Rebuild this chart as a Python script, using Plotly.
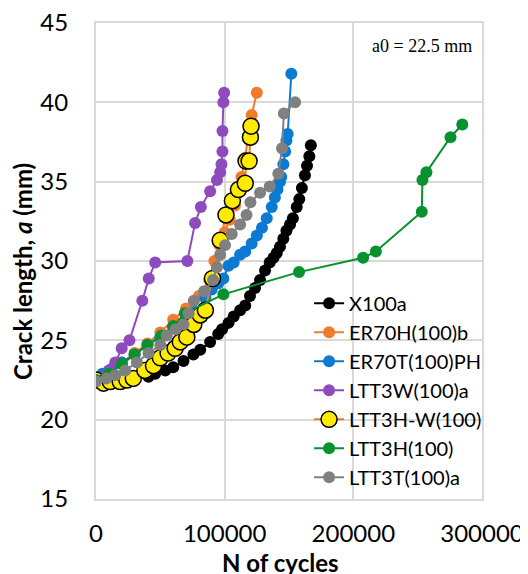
import plotly.graph_objects as go

# ---- data (N of cycles, crack length a in mm) ----
x100a_N = [0, 40800, 46000, 53800, 60000, 68000, 75700, 81000, 88700, 95000, 98000, 103000, 107000,
           112000, 116000, 119700, 123600, 127500, 131400, 135000, 138000, 140500, 143000, 145600,
           148000, 150800, 153000, 156000, 158000, 160000, 162400, 164000, 165800, 167000]
x100a_a = [22.5, 22.7, 22.9, 23.1, 23.3, 23.7, 24.1, 24.4, 24.9, 25.4, 25.7, 26.1, 26.5,
           26.9, 27.2, 27.8, 28.3, 28.8, 29.4, 29.9, 30.2, 30.5, 30.9, 31.4,
           31.9, 32.3, 32.7, 33.4, 33.9, 34.6, 35.4, 36.0, 36.6, 37.3]

er70h_N = [0, 10000, 20000, 30000, 40000, 50000, 60000, 70000, 80000, 88000, 92000, 96000, 100000,
           104000, 108000, 111000, 113000, 116000, 118000, 121000, 125000]
er70h_a = [22.5, 23.0, 23.6, 24.2, 24.8, 25.5, 26.3, 27.0, 27.8, 28.8, 30.0, 31.0, 31.8,
           32.6, 33.5, 34.4, 35.3, 36.5, 37.8, 39.2, 40.6]

er70t_N = [0, 5000, 12000, 20000, 30000, 40000, 50000, 60000, 70000, 77000, 85000, 90000, 95000,
           99000, 103000, 107000, 112000, 116000, 121000, 125000, 129000, 132700, 136600, 139000,
           141000, 143000, 144000, 145600, 147000, 148000, 149000, 151800]
er70t_a = [22.5, 22.9, 23.2, 23.6, 24.1, 24.7, 25.2, 25.8, 26.3, 26.8, 27.7, 28.2, 28.6,
           28.9, 29.7, 29.9, 30.4, 30.6, 31.1, 31.6, 32.1, 32.7, 33.4, 34.0,
           34.5, 35.0, 35.3, 36.1, 36.9, 37.6, 38.0, 41.8]

ltt3w_N = [0, 5000, 10000, 15000, 20000, 26000, 36000, 41000, 46000, 71000, 77000, 81500, 88700,
           94000, 96500, 97500, 98300, 98300, 99000, 99600]
ltt3w_a = [22.5, 22.7, 23.1, 23.6, 24.5, 25.0, 27.5, 28.9, 29.9, 30.0, 32.4, 33.4, 34.4,
           35.1, 35.6, 36.1, 36.9, 38.2, 40.0, 40.6]

ltt3hw_N = [0, 5900, 11000, 18800, 24000, 29000, 38000, 44700, 50000, 56000, 61500, 65500, 70600,
            76000, 81000, 85000, 90500, 96500, 101000, 106000, 110700, 116000, 116600, 119000,
            120000, 120500]
ltt3hw_a = [22.5, 22.3, 22.4, 22.4, 22.5, 22.6, 23.1, 23.4, 23.9, 24.2, 24.5, 24.9, 25.2,
            26.0, 26.6, 26.9, 28.9, 31.3, 32.9, 33.8, 34.5, 34.9, 36.3, 36.3,
            37.8, 38.5]

ltt3h_N = [0, 10000, 20000, 30000, 40000, 51000, 60000, 69000, 99000, 157800, 207600, 217500,
           253200, 253700, 256800, 275500, 284700]
ltt3h_a = [22.5, 22.9, 23.5, 24.1, 24.7, 25.3, 25.9, 26.7, 27.9, 29.3, 30.2, 30.6,
           33.1, 35.1, 35.6, 37.8, 38.6]

ltt3t_N = [0, 8000, 15000, 22700, 31800, 40800, 50000, 55000, 62000, 68000, 72000, 76000, 84000,
           91000, 94000, 96500, 100300, 105500, 112000, 117000, 120000, 127500, 135000, 141700,
           144600, 146000, 154700]
ltt3t_a = [22.4, 22.6, 22.8, 23.1, 23.6, 24.2, 24.7, 25.3, 25.7, 26.0, 26.7, 27.5, 28.1,
           28.8, 29.6, 30.4, 31.0, 31.7, 32.3, 32.9, 33.7, 34.3, 34.7, 35.5,
           37.1, 39.3, 40.0]

series = [
    ("X100a", x100a_N, x100a_a, "#000000", None),
    ("ER70H(100)b", er70h_N, er70h_a, "#F07B2A", None),
    ("ER70T(100)PH", er70t_N, er70t_a, "#0A7AD2", None),
    ("LTT3W(100)a", ltt3w_N, ltt3w_a, "#8E4BBE", None),
    ("LTT3H-W(100)", ltt3hw_N, ltt3hw_a, "#F07B2A", "#FFEB00"),
    ("LTT3H(100)", ltt3h_N, ltt3h_a, "#07922F", None),
    ("LTT3T(100)a", ltt3t_N, ltt3t_a, "#808080", None),
]

x_ticks = [0, 100000, 200000, 300000]
y_ticks = [15, 20, 25, 30, 35, 40, 45]

FONT = "Lato, Carlito, Calibri, sans-serif"

fig = go.Figure()
for name, xs, ys, col, fill in series:
    if fill:
        marker = dict(size=16, color=fill, line=dict(color="#000000", width=1.5))
    else:
        marker = dict(size=12, color=col)
    fig.add_trace(go.Scatter(x=xs, y=ys, name=name, mode="lines+markers",
                             line=dict(color=col, width=2), marker=marker))

grid = "#D9D9D9"
# page body has an 8px default margin; figure offset compensated in the margins
fig.update_layout(
    width=520, height=566,
    margin=dict(l=88, r=46, t=15, b=75),
    plot_bgcolor="white", paper_bgcolor="white",
    font=dict(family=FONT, color="#000000", size=24),
    showlegend=True,
    legend=dict(x=0.552, y=0.452, xanchor="left", yanchor="top",
                bgcolor="rgba(0,0,0,0)", font=dict(size=20, family=FONT)),
    xaxis=dict(range=[0, 300000], tickvals=x_ticks, ticktext=[str(v) for v in x_ticks],
               showgrid=True, gridcolor=grid, gridwidth=2, automargin=False,
               ticklabeloverflow="allow",
               showline=True, linecolor=grid, linewidth=2, mirror=True,
               ticks="outside", ticklen=12, tickcolor="rgba(0,0,0,0)",
               zeroline=False, tickfont=dict(size=24)),
    yaxis=dict(range=[15, 45], tickvals=y_ticks, ticktext=[str(v) for v in y_ticks],
               showgrid=True, gridcolor=grid, gridwidth=2, automargin=False,
               ticklabeloverflow="allow",
               showline=True, linecolor=grid, linewidth=2, mirror=True,
               ticks="outside", ticklen=21, tickcolor="rgba(0,0,0,0)",
               zeroline=False, tickfont=dict(size=24)),
    annotations=[
        dict(text="a0 = 22.5 mm", x=0.979, y=0.952, xref="paper", yref="paper",
             xanchor="right", yanchor="middle", showarrow=False,
             font=dict(family="Liberation Serif, Times New Roman, serif", size=18,
                       color="#000000")),
        dict(text="<b>Crack length, <i>a</i> (mm)</b>", x=-0.189, y=0.477,
             xref="paper", yref="paper", xanchor="center", yanchor="middle",
             textangle=-90, showarrow=False, font=dict(size=24, family=FONT, color="#000000")),
        dict(text="<b>N of cycles</b>", x=0.477, y=-0.134,
             xref="paper", yref="paper", xanchor="center", yanchor="middle",
             showarrow=False, font=dict(size=24, family=FONT, color="#000000")),
    ],
)

fig.write_html("out.html")
